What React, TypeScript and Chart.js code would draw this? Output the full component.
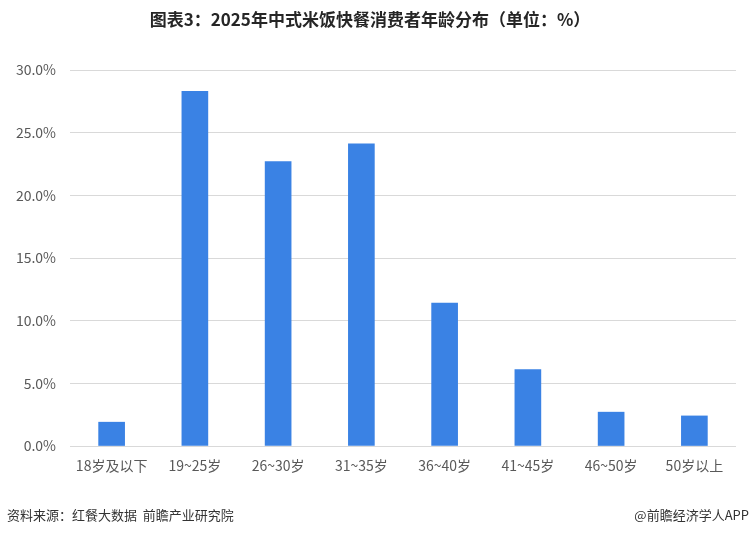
import React, { useEffect, useRef } from "react";
import { Chart, registerables } from "chart.js";

Chart.register(...registerables);

const title = "图表3：2025年中式米饭快餐消费者年龄分布（单位：%）";
const sourceText = "资料来源：红餐大数据  前瞻产业研究院";
const creditText = "@前瞻经济学人APP";
const categories = ["18岁及以下", "19~25岁", "26~30岁", "31~35岁", "36~40岁", "41~45岁", "46~50岁", "50岁以上"];
const shares = [1.9, 28.3, 22.7, 24.1, 11.4, 6.1, 2.7, 2.4];
const yTicks = [0, 5, 10, 15, 20, 25, 30];

const FONT = '"Noto Sans CJK SC", "Noto Sans", sans-serif';

const textPlugin = {
  id: "texts",
  afterDraw(chart: any) {
    const ctx = chart.ctx;
    ctx.save();
    ctx.fillStyle = "#262626";
    ctx.font = `bold 17px ${FONT}`;
    ctx.textAlign = "center";
    ctx.textBaseline = "middle";
    ctx.fillText(title, 370, 20);
    ctx.fillStyle = "#333333";
    ctx.font = `13px ${FONT}`;
    ctx.textAlign = "left";
    ctx.fillText(sourceText, 7, 515);
    ctx.textAlign = "right";
    ctx.fillText(creditText, 749, 515);
    ctx.restore();
  },
};

export default function App() {
  const ref = useRef<HTMLCanvasElement>(null);
  useEffect(() => {
    document.body.style.margin = "0";
    const chart = new Chart(ref.current!, {
      type: "bar",
      data: {
        labels: categories,
        datasets: [
          {
            data: shares,
            backgroundColor: "#3a82e4",
            barThickness: 26,
          },
        ],
      },
      options: {
        animation: false,
        responsive: false,
        layout: { padding: { top: 70, right: 13, left: 0, bottom: 0 } },
        plugins: { legend: { display: false }, tooltip: { enabled: false } },
        scales: {
          x: {
            grid: { display: false, drawTicks: false },
            border: { display: false },
            ticks: { color: "#595959", font: { size: 14, family: FONT }, padding: 11, maxRotation: 0, autoSkip: false },
            afterFit: (s: any) => {
              s.height = 89;
            },
          },
          y: {
            min: 0,
            max: 30,
            afterBuildTicks: (s: any) => {
              s.ticks = yTicks.map((v) => ({ value: v }));
            },
            grid: { color: "#d9d9d9", drawTicks: false, lineWidth: 1 },
            border: { display: false },
            ticks: {
              color: "#595959",
              font: { size: 14, family: FONT },
              padding: 14,
              callback: (v: any) => Number(v).toFixed(1) + "%",
            },
            afterFit: (s: any) => {
              s.width = 70;
            },
          },
        },
      },
      plugins: [textPlugin],
    });
    return () => chart.destroy();
  }, []);
  return <canvas ref={ref} width={749} height={535} style={{ display: "block" }} />;
}
